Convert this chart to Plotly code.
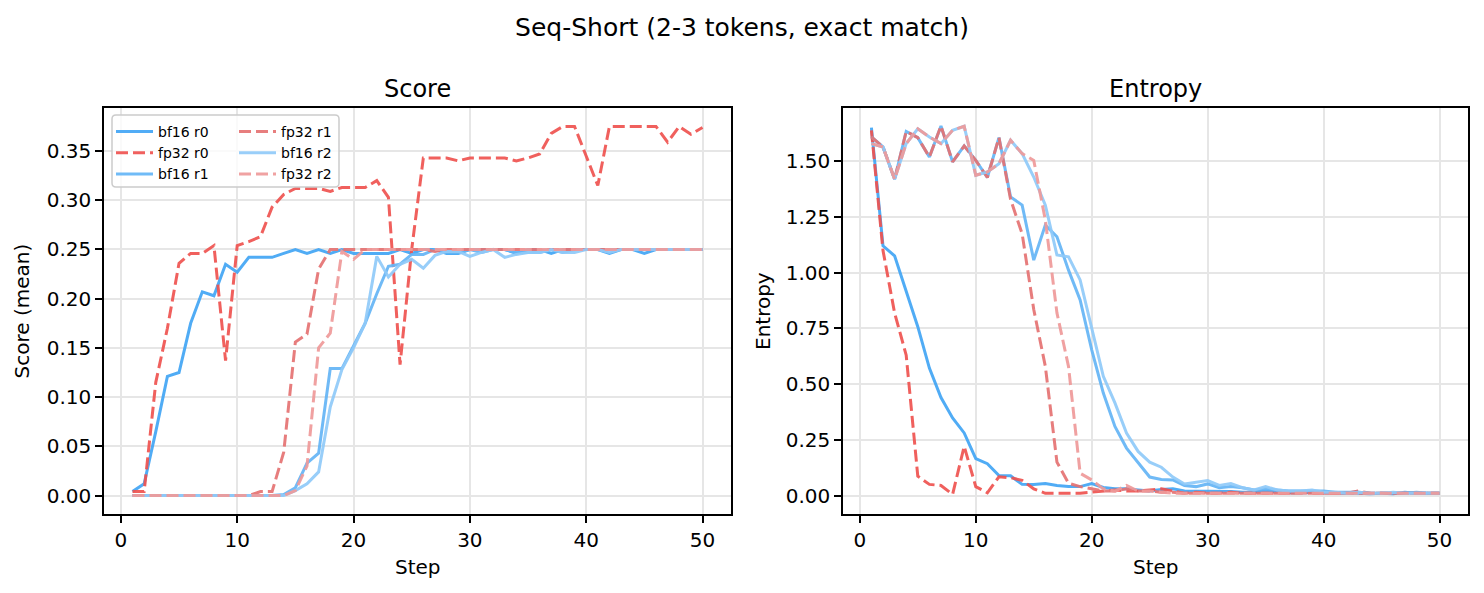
import plotly.graph_objects as go

# training steps
steps = list(range(1, 51))

# mean score per step
score_bf16_r0 = [0.004, 0.012, 0.065, 0.121, 0.125, 0.175, 0.207, 0.203, 0.235, 0.227,
                 0.242, 0.242, 0.242, 0.246, 0.250, 0.246, 0.250, 0.246, 0.250, 0.246,
                 0.246, 0.246, 0.246, 0.250, 0.246, 0.250, 0.250, 0.246, 0.246, 0.250,
                 0.250, 0.250, 0.250, 0.246, 0.250, 0.250, 0.246, 0.250, 0.250, 0.250,
                 0.250, 0.246, 0.250, 0.250, 0.246, 0.250, 0.250, 0.250, 0.250, 0.250]
score_fp32_r0 = [0.004, 0.004, 0.115, 0.170, 0.236, 0.246, 0.246, 0.254, 0.137, 0.254,
                 0.258, 0.263, 0.293, 0.306, 0.312, 0.312, 0.312, 0.309, 0.313, 0.313,
                 0.313, 0.320, 0.303, 0.133, 0.250, 0.343, 0.343, 0.343, 0.340, 0.343,
                 0.343, 0.343, 0.343, 0.340, 0.343, 0.347, 0.368, 0.375, 0.375, 0.345,
                 0.315, 0.375, 0.375, 0.375, 0.375, 0.375, 0.359, 0.375, 0.367, 0.374]
score_bf16_r1 = [0.0, 0.0, 0.0, 0.0, 0.0, 0.0, 0.0, 0.0, 0.0, 0.0,
                 0.0, 0.0, 0.0, 0.001, 0.008, 0.033, 0.043, 0.129, 0.129, 0.152,
                 0.175, 0.205, 0.233, 0.235, 0.245, 0.245, 0.250, 0.247, 0.247, 0.250,
                 0.247, 0.250, 0.250, 0.247, 0.247, 0.247, 0.250, 0.247, 0.250, 0.250,
                 0.250, 0.250, 0.250, 0.250, 0.250, 0.250, 0.250, 0.250, 0.250, 0.250]
score_fp32_r1 = [0.0, 0.0, 0.0, 0.0, 0.0, 0.0, 0.0, 0.0, 0.0, 0.0,
                 0.0, 0.004, 0.004, 0.044, 0.156, 0.164, 0.230, 0.250, 0.250, 0.250,
                 0.250, 0.250, 0.250, 0.250, 0.250, 0.250, 0.248, 0.250, 0.250, 0.250,
                 0.250, 0.250, 0.250, 0.250, 0.250, 0.250, 0.250, 0.250, 0.250, 0.250,
                 0.250, 0.250, 0.250, 0.250, 0.250, 0.250, 0.250, 0.250, 0.250, 0.250]
score_bf16_r2 = [0.0, 0.0, 0.0, 0.0, 0.0, 0.0, 0.0, 0.0, 0.0, 0.0,
                 0.0, 0.0, 0.0, 0.0, 0.005, 0.012, 0.024, 0.090, 0.128, 0.150,
                 0.175, 0.243, 0.222, 0.235, 0.240, 0.231, 0.244, 0.248, 0.248, 0.243,
                 0.247, 0.250, 0.242, 0.245, 0.247, 0.247, 0.250, 0.247, 0.247, 0.250,
                 0.250, 0.247, 0.250, 0.250, 0.250, 0.250, 0.250, 0.250, 0.250, 0.250]
score_fp32_r2 = [0.0, 0.0, 0.0, 0.0, 0.0, 0.0, 0.0, 0.0, 0.0, 0.0,
                 0.0, 0.0, 0.0, 0.0, 0.005, 0.030, 0.150, 0.165, 0.248, 0.240,
                 0.250, 0.250, 0.250, 0.250, 0.250, 0.250, 0.250, 0.250, 0.250, 0.250,
                 0.250, 0.250, 0.250, 0.250, 0.250, 0.250, 0.250, 0.250, 0.250, 0.250,
                 0.250, 0.250, 0.250, 0.250, 0.250, 0.250, 0.250, 0.250, 0.250, 0.250]

# policy entropy per step
ent_bf16_r0 = [1.652, 1.121, 1.076, 0.920, 0.758, 0.572, 0.440, 0.348, 0.281, 0.166,
               0.143, 0.090, 0.089, 0.050, 0.049, 0.054, 0.045, 0.040, 0.040, 0.054,
               0.036, 0.030, 0.030, 0.025, 0.020, 0.027, 0.030, 0.020, 0.020, 0.020,
               0.020, 0.018, 0.015, 0.015, 0.020, 0.015, 0.012, 0.010, 0.015, 0.012,
               0.010, 0.010, 0.010, 0.008, 0.010, 0.008, 0.015, 0.010, 0.010, 0.010]
ent_fp32_r0 = [1.640, 1.100, 0.820, 0.630, 0.087, 0.050, 0.045, 0.005, 0.221, 0.040,
               0.012, 0.084, 0.080, 0.068, 0.030, 0.010, 0.010, 0.010, 0.010, 0.015,
               0.020, 0.025, 0.020, 0.020, 0.025, 0.030, 0.020, 0.010, 0.015, 0.010,
               0.010, 0.015, 0.010, 0.010, 0.010, 0.010, 0.010, 0.015, 0.010, 0.010,
               0.010, 0.010, 0.020, 0.010, 0.010, 0.010, 0.010, 0.010, 0.010, 0.010]
ent_bf16_r1 = [1.610, 1.565, 1.420, 1.635, 1.607, 1.520, 1.659, 1.498, 1.570, 1.505,
               1.428, 1.607, 1.341, 1.304, 1.057, 1.214, 1.162, 1.012, 0.878, 0.654,
               0.460, 0.310, 0.213, 0.148, 0.083, 0.072, 0.070, 0.045, 0.040, 0.052,
               0.035, 0.040, 0.035, 0.025, 0.030, 0.025, 0.020, 0.020, 0.020, 0.020,
               0.015, 0.015, 0.015, 0.010, 0.010, 0.010, 0.010, 0.015, 0.010, 0.010]
ent_fp32_r1 = [1.610, 1.565, 1.420, 1.635, 1.607, 1.520, 1.659, 1.498, 1.570, 1.505,
               1.428, 1.607, 1.330, 1.175, 0.835, 0.580, 0.150, 0.055, 0.040, 0.030,
               0.020, 0.020, 0.030, 0.020, 0.020, 0.015, 0.015, 0.010, 0.010, 0.010,
               0.010, 0.010, 0.010, 0.010, 0.010, 0.010, 0.010, 0.010, 0.010, 0.010,
               0.010, 0.010, 0.010, 0.010, 0.010, 0.010, 0.010, 0.010, 0.010, 0.010]
ent_bf16_r2 = [1.580, 1.565, 1.420, 1.580, 1.647, 1.610, 1.580, 1.640, 1.658, 1.438,
               1.453, 1.490, 1.595, 1.535, 1.430, 1.304, 1.080, 1.072, 0.968, 0.758,
               0.535, 0.416, 0.280, 0.198, 0.150, 0.127, 0.083, 0.052, 0.058, 0.067,
               0.045, 0.054, 0.035, 0.025, 0.040, 0.025, 0.020, 0.020, 0.025, 0.015,
               0.015, 0.010, 0.015, 0.010, 0.010, 0.015, 0.010, 0.010, 0.010, 0.010]
ent_fp32_r2 = [1.580, 1.565, 1.420, 1.580, 1.647, 1.610, 1.580, 1.640, 1.658, 1.438,
               1.453, 1.490, 1.595, 1.535, 1.505, 1.237, 0.820, 0.579, 0.100, 0.070,
               0.030, 0.020, 0.045, 0.020, 0.020, 0.015, 0.010, 0.010, 0.010, 0.010,
               0.010, 0.010, 0.010, 0.010, 0.010, 0.010, 0.010, 0.010, 0.010, 0.010,
               0.010, 0.010, 0.010, 0.010, 0.010, 0.010, 0.010, 0.010, 0.010, 0.010]

# name, score, entropy, colour, dashed?, which legend column
runs = [
    ("bf16 r0", score_bf16_r0, ent_bf16_r0, "#42A5F5", False, "legend"),
    ("fp32 r0", score_fp32_r0, ent_fp32_r0, "#EF5350", True, "legend"),
    ("bf16 r1", score_bf16_r1, ent_bf16_r1, "#64B5F6", False, "legend"),
    ("fp32 r1", score_fp32_r1, ent_fp32_r1, "#E57373", True, "legend2"),
    ("bf16 r2", score_bf16_r2, ent_bf16_r2, "#90CAF9", False, "legend2"),
    ("fp32 r2", score_fp32_r2, ent_fp32_r2, "#EF9A9A", True, "legend2"),
]

FONT = "DejaVu Sans"
OFF = 8  # page body margin: the figure is drawn 8px in from the top-left corner
W, H = 1484 - OFF, 593 - OFF
ML, MR, MT, MB = 104 - OFF, 16, 108 - OFF, 79
PW, PH = W - ML - MR, H - MT - MB

def px(x):  # screen pixel -> paper x
    return (x - OFF - ML) / PW

def py(y):  # screen pixel -> paper y
    return 1 - (y - OFF - MT) / PH

fig = go.Figure()
for name, sc, en, col, dashed, leg in runs:
    line = dict(color=col, width=3, dash="12px,5px" if dashed else "solid")
    fig.add_trace(go.Scatter(x=steps, y=sc, mode="lines", name=name, line=line,
                             opacity=0.92, legend=leg, xaxis="x", yaxis="y"))
    fig.add_trace(go.Scatter(x=steps, y=en, mode="lines", name=name, line=line,
                             opacity=0.92, showlegend=False, xaxis="x2", yaxis="y2"))

axis_common = dict(showline=True, mirror=True, linecolor="black", linewidth=1.6,
                   ticks="outside", ticklen=7, tickwidth=1.6, tickcolor="black",
                   showgrid=True, gridcolor="#e6e6e6", gridwidth=1.5, zeroline=False,
                   tickfont=dict(family=FONT, size=20, color="black"))

legend_common = dict(xanchor="left", yanchor="top", bgcolor="rgba(0,0,0,0)",
                     borderwidth=0, tracegroupgap=0, itemwidth=37,
                     font=dict(family=FONT, size=14, color="black"))

fig.update_layout(
    width=W, height=H,
    margin=dict(l=ML, r=MR, t=MT, b=MB),
    paper_bgcolor="white", plot_bgcolor="white",
    font=dict(family=FONT, color="black"),
    title=dict(text="Seq-Short (2-3 tokens, exact match)", x=(742 - OFF) / W, xref="container",
               xanchor="center", y=1 - (27 - OFF) / H, yref="container", yanchor="middle",
               font=dict(family=FONT, size=25, color="black")),
    xaxis=dict(domain=[0, px(731)], range=[-1.45, 52.45], tickvals=[0, 10, 20, 30, 40, 50],
               anchor="y", **axis_common),
    yaxis=dict(domain=[0, 1], range=[-0.01875, 0.39375], dtick=0.05, tickformat=".2f",
               anchor="x", **axis_common),
    xaxis2=dict(domain=[px(843), 1], range=[-1.45, 52.45], tickvals=[0, 10, 20, 30, 40, 50],
                anchor="y2", **axis_common),
    yaxis2=dict(domain=[0, 1], range=[-0.083, 1.74], dtick=0.25, tickformat=".2f",
                anchor="x2", **axis_common),
    legend=dict(x=px(111), y=py(116), **legend_common),
    legend2=dict(x=px(234), y=py(116), **legend_common),
)

# legend frame (rounded box behind both legend columns)
x0, x1, y0, y1 = px(112), px(339), py(187), py(115)
rx, ry = 4 / PW, 4 / PH
frame = (f"M{x0 + rx},{y1} L{x1 - rx},{y1} Q{x1},{y1} {x1},{y1 - ry} "
         f"L{x1},{y0 + ry} Q{x1},{y0} {x1 - rx},{y0} L{x0 + rx},{y0} "
         f"Q{x0},{y0} {x0},{y0 + ry} L{x0},{y1 - ry} Q{x0},{y1} {x0 + rx},{y1} Z")
fig.add_shape(type="path", path=frame, xref="paper", yref="paper", layer="above",
              fillcolor="rgba(255,255,255,0.8)", line=dict(color="#cccccc", width=1.5))

lab = dict(family=FONT, size=20, color="black")
ttl = dict(family=FONT, size=24, color="black")
fig.add_annotation(text="Score", x=0.5, xref="x domain", y=1.048, yref="y domain",
                   showarrow=False, yanchor="middle", font=ttl)
fig.add_annotation(text="Entropy", x=0.5, xref="x2 domain", y=1.048, yref="y2 domain",
                   showarrow=False, yanchor="middle", font=ttl)
fig.add_annotation(text="Step", x=0.5, xref="x domain", y=-0.131, yref="y domain",
                   showarrow=False, yanchor="middle", font=lab)
fig.add_annotation(text="Step", x=0.5, xref="x2 domain", y=-0.131, yref="y2 domain",
                   showarrow=False, yanchor="middle", font=lab)
fig.add_annotation(text="Score (mean)", x=-0.13, xref="x domain", y=0.5, yref="y domain",
                   showarrow=False, textangle=-90, xanchor="center", font=lab)
fig.add_annotation(text="Entropy", x=-0.128, xref="x2 domain", y=0.5, yref="y2 domain",
                   showarrow=False, textangle=-90, xanchor="center", font=lab)

fig.write_html("out.html")
